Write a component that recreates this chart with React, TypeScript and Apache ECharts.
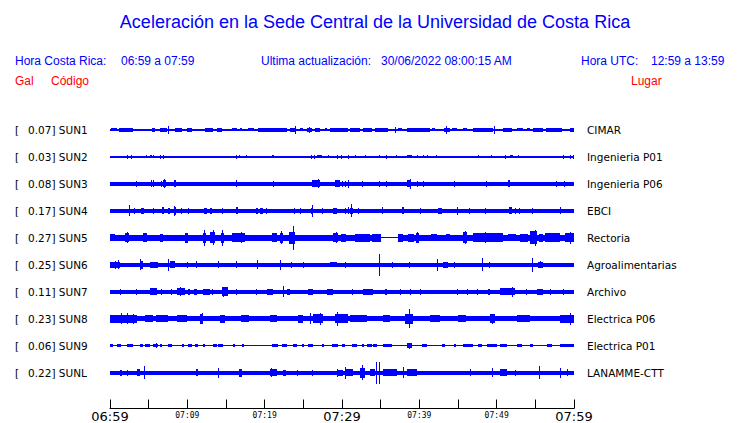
import React, { useEffect, useRef } from "react";
import * as echarts from "echarts";

// ---- Data ----
const stations = ["SUN1", "SUN2", "SUN3", "SUN4", "SUN5", "SUN6", "SUN7", "SUN8", "SUN9", "SUNL"];
const peakGal = ["0.07", "0.03", "0.08", "0.17", "0.27", "0.25", "0.11", "0.23", "0.06", "0.22"];
const places = ["CIMAR", "Ingenieria P01", "Ingenieria P06", "EBCI", "Rectoria", "Agroalimentarias", "Archivo", "Electrica P06", "Electrica P01", "LANAMME-CTT"];
const timeTicks = ["06:59", "07:09", "07:19", "07:29", "07:39", "07:49", "07:59"];
const majorTicks = ["06:59", "07:29", "07:59"];

// bursts: [startMin, endMin, halfAmplitude]; spikes: [min, halfAmplitude]
const sun1Bursts = [[0, 60, 1], [0.1, 0.9, 1.5], [1.2, 3.0, 2], [5.4, 5.8, 2], [6.5, 7.4, 2], [8.4, 9.3, 2], [10.0, 10.6, 2], [12.3, 13.3, 2], [13.8, 14.5, 2], [15.8, 16.4, 1.5], [16.8, 17.1, 1.5], [17.9, 18.6, 1.5], [19.1, 22.9, 2], [23.3, 23.9, 2], [24.6, 25.0, 1.5], [25.5, 26.1, 2.2], [26.5, 27.2, 2], [27.8, 28.1, 1.5], [28.5, 30.8, 2], [31.0, 32.3, 2], [32.7, 33.9, 2], [34.3, 36.0, 2], [37.2, 37.8, 1.5], [38.4, 41.4, 2], [41.6, 42.0, 1.5], [43.2, 44.0, 2.3], [44.2, 44.9, 1.5], [45.6, 46.2, 1.5], [46.9, 49.5, 2], [50.8, 52.0, 2], [52.6, 53.4, 1.5], [53.9, 54.3, 1.5], [54.7, 56.0, 2], [56.4, 58.5, 2], [59.5, 60, 2]];
const sun1Spikes = [[7.6, 4], [24.0, 4], [25.8, 3], [36.9, 3], [43.5, 4], [49.7, 4]];

const sun2Bursts = [[0, 60, 0.6], [4.6, 4.8, 1.5], [5.2, 5.4, 1.5], [5.5, 5.7, 1.5], [21.0, 21.2, 1.5], [26.8, 27.4, 1.5], [38.4, 39.0, 1.5], [51.7, 52.1, 1.5]];
const sun2Spikes = [[2.2, 2], [2.8, 1.8], [6.5, 1.8], [6.9, 2], [16.4, 2], [16.8, 1.5], [17.6, 1.5], [26.0, 2], [26.4, 2], [28.3, 1.5], [29.4, 2], [29.9, 2], [30.8, 2], [31.7, 1.5], [33.0, 1.5], [34.9, 1.5], [35.7, 2], [37.0, 1.5], [39.7, 1.5], [40.5, 1.5], [41.0, 1.5], [42.2, 1.5], [47.7, 1.5], [49.3, 1.5], [51.1, 2], [52.8, 1.5], [58.6, 2], [59.5, 2], [59.9, 2]];

const sun3Bursts = [[0, 60, 2], [6.9, 7.3, 3.5], [8.3, 8.5, 3.5], [26.1, 27.2, 3.5], [29.1, 29.7, 3.5], [38.4, 38.8, 3.5], [51.5, 51.7, 3.5]];
const sun3Spikes = [[3.4, 3], [5.4, 3.5], [5.6, 3.5], [6.6, 3], [7.1, 4.5], [16.3, 3.5], [21.2, 2.8], [26.9, 4.5], [30.1, 3.2], [30.4, 3], [30.8, 4], [32.6, 3], [34.9, 3], [35.7, 3], [38.9, 5], [39.8, 3], [40.6, 3], [44.5, 3], [48.7, 3], [57.8, 3], [58.8, 3]];

const sun4Bursts = [[0, 60, 1.8], [4.0, 4.4, 3], [6.7, 7.0, 3.5], [7.5, 7.8, 3], [8.3, 8.5, 4], [12.2, 12.6, 3], [12.9, 13.2, 3], [16.3, 16.6, 3.5], [18.9, 19.2, 3.2], [19.4, 19.8, 3.2], [28.8, 29.4, 3], [31.0, 31.4, 3], [37.8, 38.0, 3.5], [42.4, 42.9, 3], [51.6, 52.0, 3.5]];
const sun4Spikes = [[2.5, 5.5], [3.2, 3], [5.6, 3], [8.4, 5], [9.2, 3], [10.2, 3], [14.5, 3], [20.3, 3], [23.8, 3], [24.6, 3], [26.0, 3], [26.2, 6], [27.5, 3], [30.4, 3], [30.8, 3.5], [31.2, 6.5], [32.1, 3], [35.3, 3.5], [40.1, 3], [44.9, 4], [46.5, 3], [48.5, 3], [52.4, 3], [53.0, 3], [54.6, 3], [58.3, 3.5]];

const sun5Bursts = [[0, 35.1, 2.8], [35.1, 37.2, 0.6], [37.2, 60, 2.8], [0, 0.6, 3.5], [2.0, 2.4, 4.5], [4.3, 4.8, 4.5], [6.5, 6.9, 4], [9.7, 10.1, 5], [12.0, 12.4, 5], [12.9, 13.6, 5.5], [14.4, 14.8, 5], [15.8, 17.5, 4.5], [20.9, 21.6, 4.5], [22.0, 22.4, 5], [23.1, 23.9, 6], [28.8, 29.5, 4.5], [29.9, 30.5, 4], [31.7, 33.6, 4], [33.9, 35.1, 4], [37.2, 37.9, 4], [38.5, 39.3, 4], [39.6, 40.0, 5], [41.5, 42.3, 3.5], [43.5, 44.0, 3.5], [45.6, 46.2, 5.5], [46.9, 50.8, 4.5], [51.5, 52.5, 3.5], [53.0, 54.0, 4], [54.3, 55.2, 6.5], [55.5, 56.0, 4], [56.3, 58.2, 4.5], [58.8, 60, 4.5]];
const sun5Spikes = [[2.2, 5.5], [12.2, 8], [13.4, 7.5], [14.6, 8], [17.0, 5.5], [22.2, 6.5], [23.7, 12], [29.3, 5.5], [39.8, 5.5], [46.0, 6.5], [48.5, 5.5], [55.0, 8], [59.6, 6]];

const sun6Bursts = [[0, 60, 1.8], [0, 1.3, 3], [3.9, 4.3, 4], [5.2, 6.2, 3], [7.8, 8.4, 3.5], [28.4, 29.4, 2.5], [43.1, 43.7, 3], [55.3, 56.0, 2.8]];
const sun6Spikes = [[0.7, 4], [1.1, 4.5], [4.0, 5.5], [7.6, 6], [10.0, 3], [11.2, 3.5], [14.0, 3.5], [16.3, 3.5], [19.1, 4.5], [22.0, 5], [23.5, 3], [25.0, 3], [30.4, 3], [34.9, 11], [36.5, 3], [38.7, 3], [42.3, 6], [44.6, 3], [48.2, 6.5], [49.1, 3], [54.6, 7], [55.7, 3.5]];

const sun7Bursts = [[0, 60, 2], [5.2, 6.1, 3.5], [8.7, 9.7, 3.5], [10.1, 10.3, 3], [10.9, 11.2, 3], [12.0, 12.9, 3], [14.5, 15.3, 4.5], [20.3, 21.1, 3], [22.9, 23.3, 3], [25.6, 26.2, 3], [28.1, 28.8, 3], [32.7, 34.0, 3], [35.6, 35.8, 3], [48.9, 49.1, 3], [50.4, 52.4, 3.5], [55.2, 56.0, 3]];
const sun7Spikes = [[1.4, 3], [3.4, 3], [6.6, 3], [7.9, 3], [9.1, 4.5], [13.3, 3], [14.7, 5], [16.4, 3], [19.0, 3], [22.4, 5.5], [28.7, 3], [31.3, 3], [37.5, 3], [38.8, 3], [40.1, 3], [44.9, 3], [46.2, 3], [47.5, 3], [52.0, 5], [53.9, 3], [56.9, 3], [58.6, 3]];

const sun8Bursts = [[0, 60, 2.5], [0, 3.5, 4], [4.5, 5.6, 3.5], [6.0, 7.5, 3.2], [8.7, 10.0, 3.5], [11.6, 12.0, 5], [14.2, 14.9, 4], [17.0, 18.0, 3.2], [20.7, 21.6, 3.5], [24.3, 25.0, 4], [26.2, 27.5, 4.5], [29.1, 30.8, 4.5], [31.0, 33.2, 3.5], [35.3, 36.2, 3.5], [38.1, 39.2, 5], [41.4, 42.7, 3.5], [45.0, 46.0, 3.2], [49.1, 49.8, 4.5], [52.6, 54.3, 3.5], [58.2, 60, 4]];
const sun8Spikes = [[1.5, 5.5], [2.3, 5.5], [3.0, 5], [12.0, 5.5], [25.9, 5.5], [27.2, 6], [29.4, 7], [38.7, 9.5], [49.5, 5], [59.6, 6]];

const sun9Bursts = [[0, 60, 0.7], [0, 0.4, 1.5], [0.9, 1.4, 1.5], [2.2, 3.0, 1.5], [3.9, 4.3, 1.5], [4.5, 5.2, 1.5], [5.6, 6.2, 1.5], [6.5, 6.7, 1.5], [7.5, 8.0, 1.5], [9.3, 9.6, 1.5], [10.1, 10.6, 1.5], [11.0, 11.4, 1.5], [12.0, 12.3, 1.5], [13.3, 13.8, 1.5], [14.0, 14.6, 1.5], [15.9, 16.2, 1.5], [17.1, 17.3, 1.5], [20.9, 21.7, 1.5], [22.2, 22.9, 1.5], [23.7, 24.2, 1.5], [24.8, 25.1, 1.5], [25.6, 26.2, 1.5], [27.4, 27.7, 1.5], [28.7, 29.5, 1.5], [30.0, 30.4, 1.5], [31.3, 31.9, 1.5], [32.6, 32.8, 1.5], [33.2, 33.9, 1.5], [34.0, 34.5, 1.5], [35.3, 36.5, 1.5], [38.4, 39.0, 2.2], [40.3, 41.0, 1.5], [42.9, 43.3, 1.5], [44.5, 44.7, 1.5], [45.6, 46.9, 1.5], [47.6, 48.1, 1.5], [48.7, 50.0, 1.5], [50.4, 51.3, 1.5], [52.6, 53.3, 1.5], [54.3, 54.7, 1.5], [56.5, 57.2, 1.5], [58.2, 60, 1.5]];
const sun9Spikes = [[6.0, 2.2], [38.7, 3]];

const sunLBursts = [[0, 60, 2], [1.3, 1.6, 3], [3.5, 3.9, 3.5], [11.1, 11.4, 3.5], [16.7, 17.1, 4], [20.7, 21.6, 3.5], [22.4, 22.8, 3], [29.4, 30.1, 3], [30.4, 31.4, 3.5], [32.3, 33.0, 5], [33.6, 34.3, 3.5], [35.3, 37.1, 3.5], [38.4, 39.7, 3.5], [46.5, 46.7, 3.5], [50.4, 51.3, 3.5]];
const sunLSpikes = [[2.3, 3], [4.5, 6.5], [14.0, 5], [20.9, 4.5], [24.3, 3], [26.2, 3], [29.4, 4], [30.4, 6], [32.6, 7.5], [34.5, 11], [34.9, 11], [37.9, 5.5], [49.4, 4.5], [52.4, 3], [55.5, 6.5], [58.2, 5], [59.1, 3.5]];

const allBursts = [sun1Bursts, sun2Bursts, sun3Bursts, sun4Bursts, sun5Bursts, sun6Bursts, sun7Bursts, sun8Bursts, sun9Bursts, sunLBursts];
const allSpikes = [sun1Spikes, sun2Spikes, sun3Spikes, sun4Spikes, sun5Spikes, sun6Spikes, sun7Spikes, sun8Spikes, sun9Spikes, sunLSpikes];

const BLUE = "#0000ff";
const RED = "#ff0000";
const ROW_TOP = 130;
const ROW_GAP = 27;
const AXIS_Y = 409;
const PLOT_L = 110;
const PLOT_R = 574;

export default function App() {
  const ref = useRef<HTMLDivElement>(null);
  useEffect(() => {
    if (!ref.current) return;
    const chart = echarts.init(ref.current, undefined, { renderer: "svg" });

    const series: any[] = stations.map((s, i) => {
      const data: number[][] = [];
      allBursts[i].forEach((b) => data.push([b[0], b[1], b[2], i]));
      allSpikes[i].forEach((sp) => data.push([sp[0], sp[0], sp[1], i]));
      return {
        type: "custom",
        name: s,
        clip: false,
        data,
        renderItem: (params: any, api: any) => {
          const t0 = api.value(0);
          const t1 = api.value(1);
          const h = api.value(2);
          const row = api.value(3);
          const c0 = api.coord([t0, row]);
          const c1 = api.coord([t1, row]);
          const pxPerRow = api.size([0, 1])[1];
          const hh = (h * pxPerRow) / ROW_GAP;
          let x = Math.round(c0[0]);
          let w = Math.round(c1[0]) - x;
          if (w < 1) {
            x = Math.floor(c0[0]);
            w = 1;
          }
          const yTop = Math.round(c0[1] - hh);
          const yBot = Math.round(c0[1] + hh);
          return {
            type: "rect",
            shape: { x, y: yTop, width: w, height: Math.max(1, yBot - yTop) },
            style: { fill: BLUE },
          };
        },
      };
    });

    const graphics: any[] = [];
    const txt = (text: string, x: number, y: number, font: string, fill: string, align = "left") => ({
      type: "text",
      x,
      y,
      style: { text, font, fill, textAlign: align, textVerticalAlign: "middle" },
    });
    graphics.push(txt("Aceleración en la Sede Central de la Universidad de Costa Rica", 375, 22, "18px 'Liberation Sans', Arial, sans-serif", BLUE, "center"));
    const hf = "12px 'Liberation Sans', Arial, sans-serif";
    graphics.push(txt("Hora Costa Rica:", 15, 61, hf, BLUE));
    graphics.push(txt("06:59 a 07:59", 121, 61, hf, BLUE));
    graphics.push(txt("Ultima actualización:", 261, 61, hf, BLUE));
    graphics.push(txt("30/06/2022 08:00:15 AM", 381, 61, hf, BLUE));
    graphics.push(txt("Hora UTC:", 581, 61, hf, BLUE));
    graphics.push(txt("12:59 a 13:59", 651, 61, hf, BLUE));
    graphics.push(txt("Gal", 15, 81, hf, RED));
    graphics.push(txt("Código", 51, 81, hf, RED));
    graphics.push(txt("Lugar", 631, 81, hf, RED));
    const lf = "10.5px 'DejaVu Sans', sans-serif";
    stations.forEach((s, i) => {
      const y = ROW_TOP + i * ROW_GAP;
      graphics.push(txt("[", 15, y, lf, "#000"));
      graphics.push(txt(`${peakGal[i]}] ${s}`, 28, y, lf, "#000"));
      graphics.push(txt(places[i], 587, y, lf, "#000"));
    });

    const option: any = {
      animation: false,
      backgroundColor: "#fff",
      grid: {
        left: PLOT_L,
        right: 740 - PLOT_R,
        top: ROW_TOP - ROW_GAP,
        bottom: 423 - AXIS_Y,
      },
      xAxis: {
        type: "value",
        position: "bottom",
        min: 0,
        max: 60,
        interval: 5,
        axisLine: { show: true, onZero: false, lineStyle: { color: "#000", width: 1 } },
        axisTick: { show: true, inside: true, length: 9, lineStyle: { color: "#000", width: 1 } },
        splitLine: { show: false },
        axisLabel: {
          margin: 1,
          showMinLabel: true,
          showMaxLabel: true,
          formatter: (v: number) => {
            if (v % 10 !== 0) return "";
            const lab = timeTicks[v / 10];
            return majorTicks.includes(lab) ? `{big|${lab}}` : `{small|${lab}}`;
          },
          rich: {
            big: { fontFamily: "'DejaVu Sans', sans-serif", fontSize: 13, color: "#000", lineHeight: 14 },
            small: { fontFamily: "'DejaVu Sans Mono', monospace", fontSize: 8, color: "#000", lineHeight: 12 },
          },
        },
      },
      yAxis: {
        type: "value",
        min: -1,
        max: (AXIS_Y - ROW_TOP) / ROW_GAP,
        inverse: true,
        show: false,
        splitLine: { show: false },
      },
      graphic: graphics,
      series,
    };
    chart.setOption(option);
    return () => chart.dispose();
  }, []);
  return <div ref={ref} style={{ position: "fixed", left: 0, top: 0, width: 740, height: 423 }} />;
}
